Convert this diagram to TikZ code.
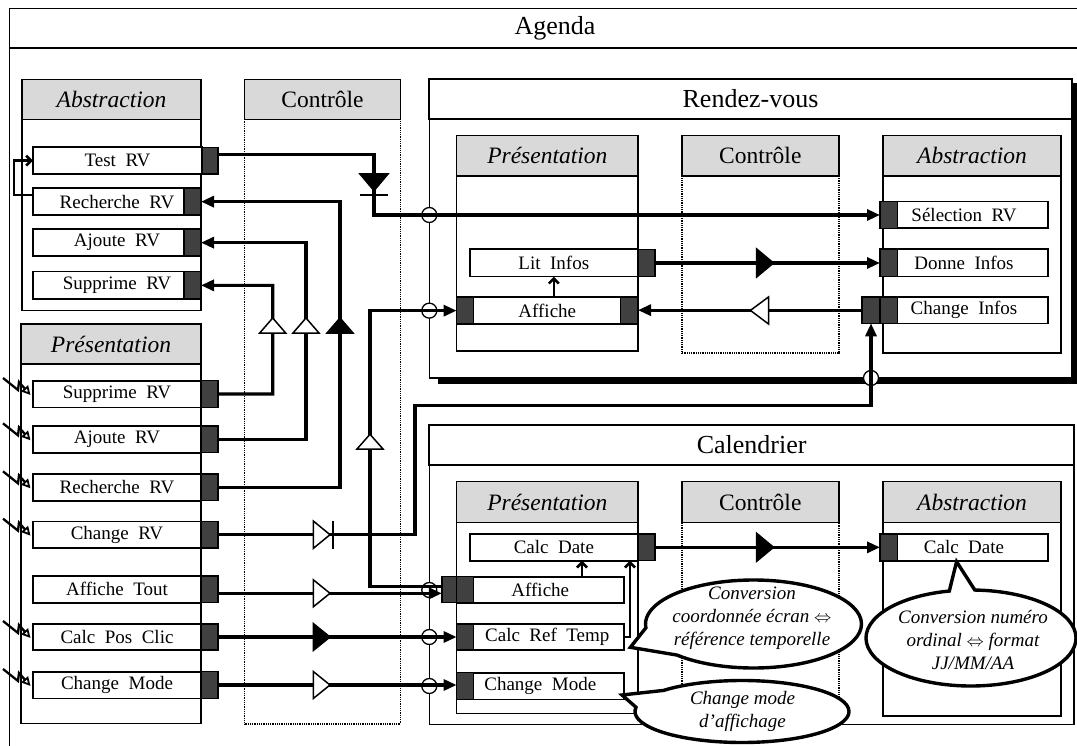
\documentclass[tikz,border=0pt]{standalone}
\usepackage{fontspec}
\setmainfont{Liberation Serif}
\usetikzlibrary{arrows.meta,shapes.callouts,calc}
\definecolor{hgray}{HTML}{D9D9D9}
\definecolor{pgray}{HTML}{404040}
\newcommand\mkbox[7]{\node[#6, minimum width={(#4)-(#2)}, minimum height={(#5)-(#3)}] (#1) at ({((#2)+(#4))/2},{((#3)+(#5))/2}) {#7};}
\newcommand\wsp{\hspace{0.5em}}
\begin{document}
\begin{tikzpicture}[x=1pt,y=-1pt,
  hdr/.style={draw, fill=hgray, line width=1.4pt, inner sep=0pt, outer sep=0pt, font=\fontsize{23.5}{28}\selectfont},
  hdri/.style={hdr, font=\fontsize{23.5}{28}\selectfont\itshape},
  pbody/.style={draw, fill=white, line width=1.3pt, inner sep=0pt, outer sep=0pt},
  cbody/.style={draw, fill=white, dash pattern=on 1pt off 0.8pt, line width=1.4pt, inner sep=0pt, outer sep=0pt},
  titlebox/.style={draw, fill=white, line width=2.2pt, inner sep=0pt, outer sep=0pt, font=\fontsize{26}{30}\selectfont},
  frame/.style={draw, fill=white, line width=1.6pt, inner sep=0pt, outer sep=0pt},
  item/.style={draw, fill=white, line width=1.6pt, inner sep=0pt, outer sep=0pt, font=\fontsize{19}{22}\selectfont},
  port/.style={draw, fill=pgray, line width=1.2pt, inner sep=0pt, outer sep=0pt},
  wire/.style={line width=3.1pt},
  warr/.style={-{Triangle[length=13pt,width=11pt]}},
  smallarr/.style={line width=2.6pt, -{Straight Barb[length=5pt,width=10pt]}},
  xing/.style={draw, fill=white, line width=1.3pt, circle, minimum size=15pt, inner sep=0pt},
  sigo/.style={draw, fill=white, line width=1.5pt, line join=miter},
  sigf/.style={draw, fill=black, line width=1.5pt, line join=miter},
  calloutnote/.style={ellipse callout, draw, fill=white, line width=3.4pt, inner sep=0pt},
  notetext/.style={font=\fontsize{19}{23}\selectfont\itshape, align=center, inner sep=0pt},
  bolt/.style={line width=2.3pt, line join=miter, -{Triangle[open, length=9pt, width=9pt, line width=1.8pt]}}
]
\useasboundingbox (0,0) rectangle (1077,746);

% ---- Agenda frame
\draw[line width=1.7pt] (1090,8.5) -- (9.5,8.5) -- (9.5,748);
\draw[line width=2.2pt] (9.5,48.3) -- (1090,48.3);
\node[font=\fontsize{26}{30}\selectfont, inner sep=0pt] (agTitle) at (555,28.5) {Agenda};

% ---- left panels
\mkbox{laB}{22}{119.3}{201}{310.7}{pbody}{}
\mkbox{laH}{22}{79.3}{201}{119.3}{hdri}{Abstraction}
\mkbox{lcB}{244.5}{119.3}{400.5}{724}{cbody}{}
\mkbox{lcH}{244.5}{79.3}{400.5}{119.3}{hdr}{Contrôle}
\mkbox{lpB}{21}{364}{201}{723.3}{pbody}{}
\mkbox{lpH}{21}{324}{201}{364}{hdri}{Présentation}

% ---- Rendez-vous
\draw[line width=5.5pt] (438,381) -- (1074.7,381) -- (1074.7,83);
\mkbox{rvF}{429.3}{119.3}{1071.7}{377.7}{frame}{}
\mkbox{rvT}{429.3}{78.7}{1071.7}{119.3}{titlebox}{Rendez-vous}
\mkbox{rvPB}{456.6}{176}{638}{351}{pbody}{}
\mkbox{rvPH}{456.6}{135.7}{638}{176}{hdri}{Présentation}
\mkbox{rvCB}{681.8}{176}{838.8}{353}{cbody}{}
\mkbox{rvCH}{681.8}{135.7}{838.8}{176}{hdr}{Contrôle}
\mkbox{rvAB}{883}{176}{1061}{353}{pbody}{}
\mkbox{rvAH}{883}{135.7}{1061}{176}{hdri}{Abstraction}

% ---- Calendrier
\mkbox{caF}{429.3}{465}{1074}{724.3}{frame}{}
\mkbox{caT}{429.3}{425}{1074}{465}{titlebox}{Calendrier}
\mkbox{caPB}{456.6}{522.7}{638}{713.3}{pbody}{}
\mkbox{caPH}{456.6}{481.7}{638}{522.7}{hdri}{Présentation}
\mkbox{caCB}{681.8}{522.7}{838.8}{716}{cbody}{}
\mkbox{caCH}{681.8}{481.7}{838.8}{522.7}{hdr}{Contrôle}
\mkbox{caAB}{883}{522.7}{1061}{716}{pbody}{}
\mkbox{caAH}{883}{481.7}{1061}{522.7}{hdri}{Abstraction}

% ---- left abstraction items
\mkbox{aTest}{33}{147.3}{202}{174}{item}{Test\wsp RV}
\mkbox{paTest}{202}{147.3}{218}{174}{port}{}
\mkbox{aRech}{33}{188.3}{201}{215}{item}{Recherche\wsp RV}
\mkbox{paRech}{184}{188.3}{201}{215}{port}{}
\mkbox{aAjo}{33}{229.3}{201}{256}{item}{Ajoute\wsp RV}
\mkbox{paAjo}{184}{229.3}{201}{256}{port}{}
\mkbox{aSup}{33}{271.7}{201}{299}{item}{Supprime\wsp RV}
\mkbox{paSup}{184}{271.7}{201}{299}{port}{}

% ---- left presentation items
\mkbox{pSup}{33}{380.7}{201}{407.3}{item}{Supprime\wsp RV}
\mkbox{ppSup}{201}{380.7}{218}{407.3}{port}{}
\mkbox{pAjo}{33}{426}{201}{452.7}{item}{Ajoute\wsp RV}
\mkbox{ppAjo}{201}{426}{218}{452.7}{port}{}
\mkbox{pRech}{33}{474}{201}{500.7}{item}{Recherche\wsp RV}
\mkbox{ppRech}{201}{474}{218}{500.7}{port}{}
\mkbox{pChg}{33}{521.3}{201}{548}{item}{Change\wsp RV}
\mkbox{ppChg}{201}{521.3}{218}{548}{port}{}
\mkbox{pAT}{33}{576}{201}{602.7}{item}{Affiche\wsp Tout}
\mkbox{ppAT}{201}{576}{218}{602.7}{port}{}
\mkbox{pCPC}{33}{624}{201}{650}{item}{Calc\wsp Pos\wsp Clic}
\mkbox{ppCPC}{201}{624}{218}{650}{port}{}
\mkbox{pCM}{33}{671.7}{201}{698.3}{item}{Change\wsp Mode}
\mkbox{ppCM}{201}{671.7}{218}{698.3}{port}{}

% ---- Rendez-vous items
\mkbox{rSel}{880}{201.7}{1048}{228.3}{item}{Sélection\wsp RV}
\mkbox{prSel}{880}{201.7}{897.7}{228.3}{port}{}
\mkbox{rLI}{469.7}{249.3}{638}{276.7}{item}{Lit\wsp Infos}
\mkbox{prLI}{638}{249.3}{655}{276.7}{port}{}
\mkbox{rDI}{880}{249.3}{1048}{276.7}{item}{Donne\wsp Infos}
\mkbox{prDI}{880}{249.3}{897.7}{276.7}{port}{}
\mkbox{rAff}{456.6}{297.3}{638}{324}{item}{Affiche}
\mkbox{prAff1}{456.6}{297.3}{473.5}{324}{port}{}
\mkbox{prAff2}{620.8}{297.3}{638}{324}{port}{}
\mkbox{rCI}{880}{297}{1048}{323.3}{item}{Change\wsp Infos}
\mkbox{prCI1}{862}{297}{880}{323.3}{port}{}
\mkbox{prCI2}{880}{297}{897.7}{323.3}{port}{}

% ---- Calendrier items
\mkbox{cCDP}{469.7}{534}{638}{560.7}{item}{Calc\wsp Date}
\mkbox{pcCDP}{638}{534}{655}{560.7}{port}{}
\mkbox{cCDA}{880}{534}{1048}{560.7}{item}{Calc\wsp Date}
\mkbox{pcCDA}{880}{534}{897.7}{560.7}{port}{}
\mkbox{cAff}{456.6}{576.7}{624}{602.7}{item}{Affiche}
\mkbox{pcAff0}{441.9}{576.7}{456.6}{602.7}{port}{}
\mkbox{pcAff1}{456.6}{576.7}{473.5}{602.7}{port}{}
\mkbox{cCRT}{456.6}{624}{624}{650}{item}{\hspace{14pt}Calc\wsp Ref\wsp Temp}
\mkbox{pcCRT}{456.6}{624}{473.5}{650}{port}{}
\mkbox{cCM}{456.6}{672.7}{624}{699.3}{item}{Change\wsp Mode}
\mkbox{pcCM}{456.6}{672.7}{473.5}{699.3}{port}{}

% ---- crossing circles
\node[xing] (x1) at (429.3,215) {};
\node[xing] (x2) at (429.3,310.65) {};
\node[xing] (x3) at (429.3,590) {};
\node[xing] (x4) at (429.3,637) {};
\node[xing] (x5) at (429.3,686) {};
\node[xing] (x6) at (871,378) {};

% ---- turning points
\coordinate (c1) at (374,215);
\coordinate (c2) at (340,201.65);
\coordinate (c3) at (306,242.65);
\coordinate (c4) at (272.7,285.35);
\coordinate (c5) at (415,405.7);
\coordinate (c6) at (370,310.65);
\coordinate (c14) at (582,576.7);
\coordinate (c15) at (630,0);

% ---- wires
\draw[wire, warr] ($(paTest.east)+(0,-6)$) -| (c1) -- (prSel.west);
\draw[wire, warr] (ppRech.east) -| (c2) -- (paRech.east);
\draw[wire, warr] (ppAjo.east) -| (c3) -- (paAjo.east);
\draw[wire, warr] (ppSup.east) -| (c4) -- (paSup.east);
\draw[wire, warr] (ppChg.east) -| (c5) -| (prCI1.south);
\draw[wire, warr] ($(pcAff0.west)+(0,-3)$) -| (c6) -- (prAff1.west);
\draw[wire, warr] ($(ppAT.east)+(0,4)$) -- ($(ppAT.east -| pcAff0.west)+(0,4)$);
\draw[wire, warr] (ppCPC.east) -- (pcCRT.west);
\draw[wire, warr] (ppCM.east) -- (ppCM.east -| pcCM.west);
\draw[wire, warr] (prLI.east) -- (prDI.west);
\draw[wire, warr] (prCI1.west) -- (prCI1.west -| prAff2.east);
\draw[wire, warr] (pcCDP.east) -- (pcCDA.west);
\draw[smallarr] ($(aRech.west)+(0,-6.7)$) -| ($(aTest.west)+(-19,0)$) -- (aTest.west);
\draw[smallarr] (rLI.south |- rAff.north) -- (rLI.south);
\draw[smallarr] (c14) -- (c14 |- cCDP.south);
\draw[smallarr] (cCRT.east) -| (c15 |- cCDP.south);

% ---- signal markers
\draw[sigf] (360,174) -- (388,174) -- (374,190.7) -- cycle;
\draw[line width=2pt] (360,195) -- (388,195);
\draw[sigo] (259.7,333) -- (285.7,333) -- (272.7,318) -- cycle;
\draw[sigo] (293,333) -- (319,333) -- (306,318) -- cycle;
\draw[sigf] (327,333) -- (353,333) -- (340,318) -- cycle;
\draw[sigo] (357,449) -- (383,449) -- (370,434.3) -- cycle;
\draw[sigo] (313.3,521) -- (330,534.7) -- (313.3,548.4) -- cycle;
\draw[line width=2pt] (333,520.7) -- (333,549);
\draw[sigo] (313.3,579.8) -- (330,593.3) -- (313.3,606.8) -- cycle;
\draw[sigf] (313.3,623.5) -- (330,637) -- (313.3,650.5) -- cycle;
\draw[sigo] (313.3,671.5) -- (330,685) -- (313.3,698.5) -- cycle;
\draw[sigf] (756.7,249) -- (773.5,263) -- (756.7,277) -- cycle;
\draw[sigo] (768.5,297) -- (750.4,310.4) -- (768.5,324) -- cycle;
\draw[sigf] (756.7,533.3) -- (773.5,547.3) -- (756.7,561.3) -- cycle;

% ---- lightning symbols
\foreach \b in {pSup,pAjo,pRech,pChg,pCPC,pCM}{
  \draw[bolt] ($(\b.west)+(-30,-16)$) -- ++(15,12) -- ++(1,-8) -- ++(11.5,13);
}

% ---- callouts
\node[calloutnote, minimum width=216, minimum height=88, callout pointer arc=40, callout absolute pointer={(630.4,647.3)}] (n1) at (753.5,624) {};
\node[notetext] (n1t) at (752,618) {Conversion\\coordonnée écran $\Leftrightarrow$\\référence temporelle};
\node[calloutnote, minimum width=210, minimum height=96, callout pointer arc=14, callout absolute pointer={(956.6,561.7)}] (n2) at (971,638) {};
\node[notetext] (n2t) at (973,640) {Conversion numéro\\ordinal $\Leftrightarrow$ format\\JJ/MM/AA};
\node[calloutnote, minimum width=214, minimum height=62, callout pointer arc=35, callout absolute pointer={(622,695)}] (n3) at (742,711.5) {};
\node[notetext] (n3t) at (742.5,711.7) {Change mode\\d'affichage};
\end{tikzpicture}
\end{document}
